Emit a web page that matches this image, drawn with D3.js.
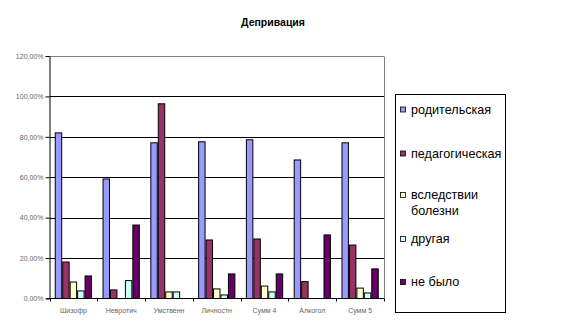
<!DOCTYPE html>
<html><head><meta charset="utf-8">
<script src="https://cdn.jsdelivr.net/npm/d3@7"></script>
<style>body{margin:0;background:#fff}svg{display:block}</style>
</head><body>
<svg id="c" width="566" height="334"></svg>
<script>
const title = "Депривация";
const categories = ["Шизофр","Невротич","Умственн","Личностн","Сумм 4","Алкогол","Сумм 5"];
const seriesNames = ["родительская","педагогическая","вследствии болезни","другая","не было"];
const seriesColors = ["#9999FF","#993366","#FFFFCC","#CCFFFF","#660066"];
const s1 = [82.2, 59.4, 77.3, 77.8, 78.8, 68.8, 77.3];
const s2 = [18.3, 4.5, 96.6, 29.2, 29.7, 8.6, 26.7];
const s3 = [8.4, 0, 3.5, 5.0, 6.4, 0, 5.4];
const s4 = [4.0, 9.1, 3.5, 2.0, 3.5, 0, 3.0];
const s5 = [11.4, 36.6, 0, 12.4, 12.4, 31.7, 14.9];
const series = [s1,s2,s3,s4,s5];
const yTicks = [0,20,40,60,80,100,120];

const svg = d3.select("#c");
const L = 49.5, R = 384, T = 56, B = 298.5;
const x = d3.scaleBand().domain(categories).range([L,R]).paddingInner(0.22).paddingOuter(0.11);
const x1 = d3.scaleBand().domain(d3.range(5)).range([0, x.bandwidth()]);
const y = d3.scaleLinear().domain([0,120]).range([B,T]);
const fmt = v => v.toFixed(2).replace(".", ",") + "%";

svg.append("text").attr("x",273).attr("y",26).attr("text-anchor","middle")
  .attr("font-family","Liberation Sans, Arial").attr("font-weight","bold").attr("font-size",10.5).text(title);

// gridlines
svg.append("g").selectAll("line").data(yTicks.filter(d=>d>0)).join("line")
  .attr("x1",L).attr("x2",R).attr("y1",d=>Math.round(y(d))+0.5).attr("y2",d=>Math.round(y(d))+0.5)
  .attr("stroke",d=>d===120?"#808080":"#000").attr("stroke-width",1);
// right border
svg.append("line").attr("x1",R+0.5).attr("x2",R+0.5).attr("y1",T+0.5).attr("y2",B).attr("stroke","#808080");

// y axis
const ya = svg.append("g").attr("transform",`translate(${L},0)`)
  .call(d3.axisLeft(y).tickValues(yTicks).tickFormat(fmt).tickSize(4).tickPadding(2));
ya.select(".domain").attr("stroke","#000").attr("d",`M0.5,${T}V${B}`);
ya.selectAll(".tick line").attr("stroke","#000");
ya.selectAll("text").attr("font-family","Liberation Sans, Arial").attr("font-size",7).attr("fill","#666");

// bars
const g = svg.append("g");
categories.forEach((c,i)=>{
  series.forEach((s,j)=>{
    const v = s[i];
    if (v <= 0) return;
    g.append("rect").attr("x",x(c)+x1(j)+0.5).attr("y",y(v)+0.5)
      .attr("width",x1.bandwidth()-1).attr("height",B-y(v)-0.5)
      .attr("fill",seriesColors[j]).attr("stroke","#000").attr("stroke-width",1);
  });
});

// x axis
const step = (R-L)/categories.length;
const xa = svg.append("g");
xa.append("line").attr("x1",L-3).attr("x2",R).attr("y1",B).attr("y2",B).attr("stroke","#000");
xa.selectAll("line.t").data(d3.range(categories.length+1)).join("line").attr("class","t")
  .attr("x1",d=>Math.round(L+d*step)+0.5).attr("x2",d=>Math.round(L+d*step)+0.5)
  .attr("y1",B).attr("y2",B+3).attr("stroke","#000");
xa.selectAll("text").data(categories).join("text")
  .attr("x",d=>x(d)+x.bandwidth()/2).attr("y",312.5).attr("text-anchor","middle")
  .attr("font-family","Liberation Sans, Arial").attr("font-size",7).attr("fill","#666").text(d=>d);

// legend
const lg = svg.append("g");
lg.append("rect").attr("x",395.5).attr("y",94.5).attr("width",110).attr("height",218)
  .attr("fill","#fff").attr("stroke","#000");
const itemY = [109.5, 153.5, 195, 239, 282];
seriesNames.forEach((n,j)=>{
  lg.append("rect").attr("x",400.5).attr("y",itemY[j]-2.5).attr("width",5).attr("height",5)
    .attr("fill",seriesColors[j]).attr("stroke","#000").attr("stroke-width",0.8);
  const t = lg.append("text").attr("x",411).attr("y",itemY[j]+4.3)
    .attr("font-family","Liberation Sans, Arial").attr("font-size",12.6).attr("fill","#000");
  if (n === "вследствии болезни") {
    t.append("tspan").attr("x",411).text("вследствии");
    t.append("tspan").attr("x",411).attr("dy",15.7).text("болезни");
  } else t.text(n);
});
</script>
</body></html>
